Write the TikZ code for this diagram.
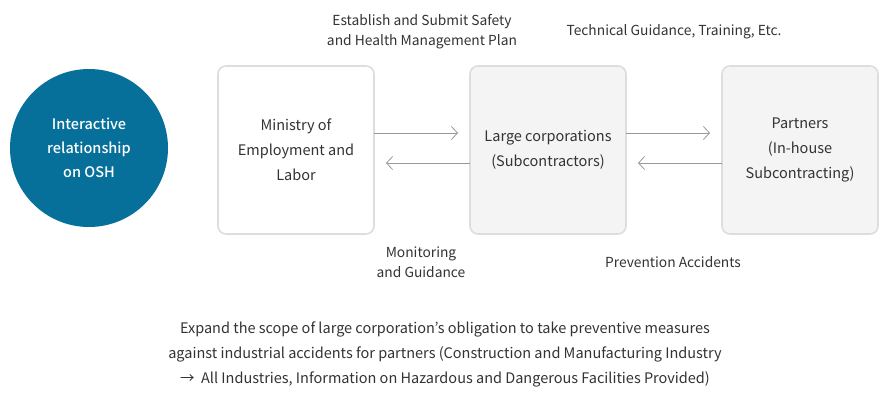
\documentclass[tikz,border=0pt]{standalone}
\usepackage{fontspec}
\setmainfont{Noto Sans CJK KR}
\newfontfamily\medfont{Noto Sans CJK KR Medium}
\usetikzlibrary{positioning,arrows.meta}
\definecolor{oshblue}{HTML}{07709A}
\definecolor{boxline}{HTML}{DDDDDD}
\definecolor{boxfill}{HTML}{F4F4F4}
\definecolor{txtgray}{HTML}{333333}
\definecolor{arrgray}{HTML}{999999}
\tikzset{
  txt/.style={font=\fontsize{14.5}{25}\selectfont, text=txtgray, align=center},
  lbl/.style={font=\fontsize{13.8}{20}\selectfont, text=txtgray, align=center},
  party/.style={txt, draw=boxline, line width=1.6pt, rounded corners=8pt,
    minimum width=156pt, minimum height=168pt, inner sep=0pt, outer sep=0pt},
  flow/.style={draw=arrgray, line width=0.8pt, -{Straight Barb[length=6pt,width=13pt]}, shorten >=12pt}
}
\begin{document}
\begin{tikzpicture}[x=1pt, y=1pt]
  \useasboundingbox (0,0) rectangle (890,400);

  % the circle on the left
  \node[circle, fill=oshblue, minimum size=158pt, inner sep=0pt, txt, text=white,
    font=\medfont\fontsize{14.5}{24}\selectfont]
    (osh) at (89,252) {Interactive\\relationship\\on OSH};

  % the three parties
  \node[party, fill=white] (moel) at (296,250) {Ministry of\\Employment and\\Labor};
  \node[party, fill=boxfill, right=96pt of moel] (large) {Large corporations\\(Subcontractors)};
  \node[party, fill=boxfill, right=96pt of large] (partner) {Partners\\(In-house\\Subcontracting)};

  % arrows between the parties
  \draw[flow] ([yshift=17pt]moel.east) -- ([yshift=17pt]large.west);
  \draw[flow] ([yshift=-13pt]large.west) -- ([yshift=-13pt]moel.east);
  \draw[flow] ([yshift=17pt]large.east) -- ([yshift=17pt]partner.west);
  \draw[flow] ([yshift=-13pt]partner.west) -- ([yshift=-13pt]large.east);

  % labels over and under the arrows
  \node[lbl] (plan) at (422,368) {Establish and Submit Safety\\and Health Management Plan};
  \node[lbl] (tech) at (674,368) {Technical Guidance, Training, Etc.};
  \node[lbl] (monit) at (421,138) {Monitoring\\and Guidance};
  \node[lbl] (prev) at (673,138) {Prevention Accidents};

  % note at the bottom
  \node[txt] (note) at (445,46) {Expand the scope of large corporation’s obligation to take preventive measures\\against industrial accidents for partners (Construction and Manufacturing Industry\\→ \ All Industries, Information on Hazardous and Dangerous Facilities Provided)};
\end{tikzpicture}
\end{document}
